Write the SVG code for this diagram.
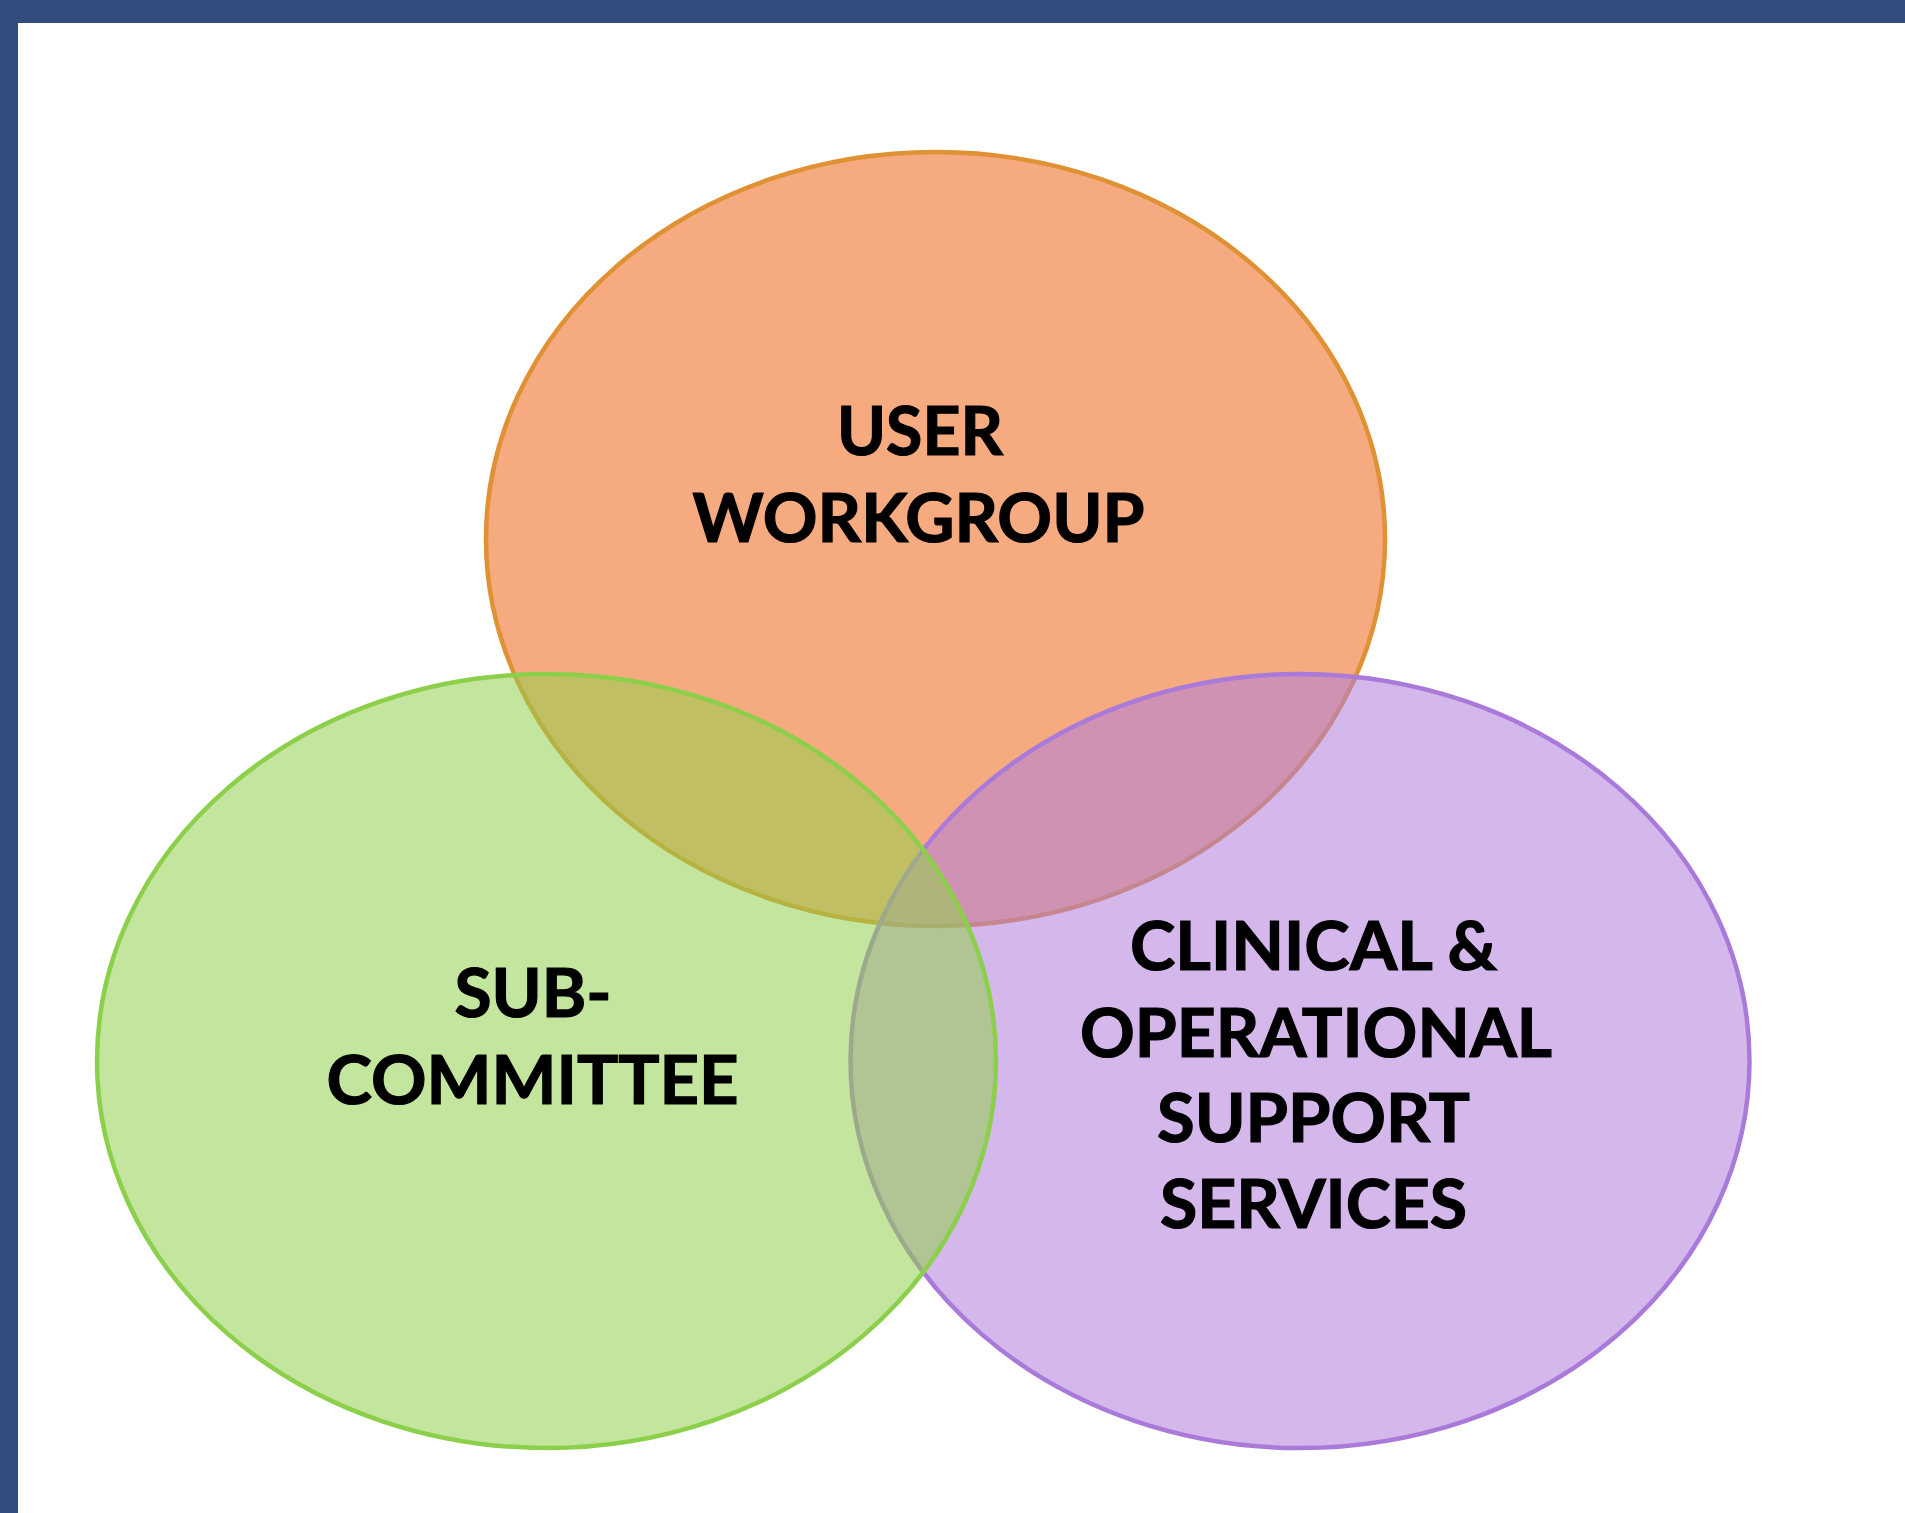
<svg xmlns="http://www.w3.org/2000/svg" width="1905" height="1513" viewBox="0 0 1905 1513">
<style>
.lbl{font-family:Lato,"Open Sans","Liberation Sans",sans-serif;font-weight:bold;font-size:66px;fill:#000;stroke:#000;stroke-width:1.2;text-anchor:middle}
.ell{stroke-width:4.5}
</style>
<rect x="0" y="0" width="1905" height="1513" fill="#ffffff"/>
<rect x="0" y="0" width="1905" height="23" fill="#314d7e"/>
<rect x="0" y="0" width="18" height="1513" fill="#314d7e"/>
<g id="user-workgroup">
<ellipse class="ell" cx="935.5" cy="539" rx="449.5" ry="387" fill="#f5aa7f" stroke="#df9134"/>
</g>
<g id="clinical-operational">
<ellipse class="ell" cx="1300" cy="1061" rx="449.5" ry="387" fill="#b07ddc" fill-opacity="0.55" stroke="#a97ad9"/>
</g>
<g id="sub-committee">
<ellipse class="ell" cx="546.5" cy="1061" rx="449.5" ry="387" fill="#94cf4c" fill-opacity="0.55" stroke="#8ccf4a"/>
</g>
<g id="labels">
<text class="lbl" x="920" y="455" textLength="166" lengthAdjust="spacingAndGlyphs">USER</text>
<text class="lbl" x="918.5" y="542" textLength="452" lengthAdjust="spacingAndGlyphs">WORKGROUP</text>
<text class="lbl" x="533" y="1017" textLength="157" lengthAdjust="spacingAndGlyphs">SUB-</text>
<text class="lbl" x="532.5" y="1104" textLength="412" lengthAdjust="spacingAndGlyphs">COMMITTEE</text>
<text class="lbl" x="1313.5" y="970" textLength="367" lengthAdjust="spacingAndGlyphs">CLINICAL &amp;</text>
<text class="lbl" x="1316" y="1057" textLength="472" lengthAdjust="spacingAndGlyphs">OPERATIONAL</text>
<text class="lbl" x="1313.5" y="1142" textLength="313" lengthAdjust="spacingAndGlyphs">SUPPORT</text>
<text class="lbl" x="1313.5" y="1228" textLength="307" lengthAdjust="spacingAndGlyphs">SERVICES</text>
</g>
</svg>
